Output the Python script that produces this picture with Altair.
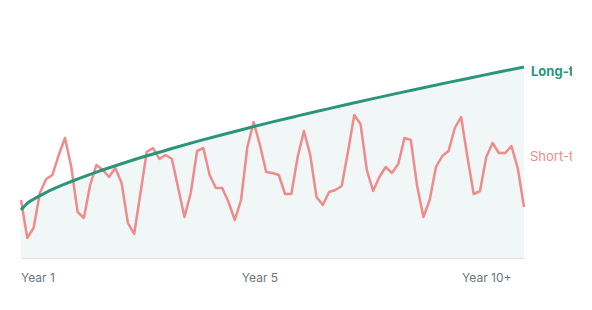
import altair as alt
import pandas as pd

# x positions are period indices (0 = Year 1 ... 80 = Year 10+)
short_term = [58, 20, 30, 65, 79, 83, 103, 120, 91, 46,
              40, 73, 93, 88, 81, 90, 75, 35, 24, 65,
              106, 110, 99, 103, 99, 70, 41, 65, 107, 110,
              83, 70, 70, 56, 38, 58, 111, 136, 113, 86,
              85, 83, 64, 64, 101, 127, 103, 61, 53, 66,
              68, 72, 106, 143, 134, 88, 67, 81, 91, 85,
              94, 120, 118, 72, 41, 58, 91, 102, 107, 130,
              141, 101, 64, 67, 101, 115, 105, 105, 112, 90,
              51]

long_idx = [0, 1, 2, 4, 8, 12, 16, 20, 24, 28, 32, 36, 40,
            44, 48, 52, 56, 60, 64, 68, 72, 76, 80]
long_term = [48, 54.7, 58.8, 65.6, 76.5, 85.9, 94.3, 102.2, 109.5, 116.6,
             123.3, 129.8, 136.1, 142.1, 148.0, 153.8, 159.4, 164.9,
             170.3, 175.6, 180.8, 186.0, 191.0]

year_labels = ["Year 1", "Year 5", "Year 10+"]
year_pos = [0, 38, 78]
year_align = ["left", "center", "right"]

series_labels = ["Long-term", "Short-term"]
series_label_x = [80, 80]
series_label_y = [191, 101]

GREEN = "#2b957a"
RED = "#ef8b8b"

short_df = pd.DataFrame({"i": list(range(len(short_term))), "v": short_term})
long_df = pd.DataFrame({"i": long_idx, "v": long_term})

xscale = alt.Scale(domain=[0, 80], nice=False, zero=False)
yscale = alt.Scale(domain=[0, 248], nice=False)

x_enc = alt.X("i:Q", scale=xscale,
              axis=alt.Axis(labels=False, ticks=False, grid=False, title=None,
                            domainColor="#dcdfe1", domainWidth=1))
y_enc = alt.Y("v:Q", scale=yscale, axis=None)

area = alt.Chart(long_df).mark_area(interpolate="monotone", color="#f1f7f7").encode(
    x=x_enc, y=y_enc)
green_line = alt.Chart(long_df).mark_line(interpolate="monotone", color=GREEN,
                                          strokeWidth=3).encode(x=x_enc, y=y_enc)
red_line = alt.Chart(short_df).mark_line(color=RED, strokeWidth=2.5,
                                         strokeJoin="round").encode(x=x_enc, y=y_enc)

year_layers = []
for lab, pos, al in zip(year_labels, year_pos, year_align):
    d = pd.DataFrame({"i": [pos], "t": [lab]})
    year_layers.append(
        alt.Chart(d).mark_text(align=al, baseline="middle", font="Inter",
                               fontSize=12, color="#6b7580").encode(
            x=alt.X("i:Q", scale=xscale), y=alt.value(268), text="t:N"))

lab_df = pd.DataFrame({"i": series_label_x, "v": series_label_y, "t": series_labels})
long_lab = alt.Chart(lab_df.iloc[[0]]).mark_text(
    align="left", baseline="middle", dx=7, dy=5, font="Inter", fontSize=13,
    fontWeight="bold", color=GREEN).encode(
    x=alt.X("i:Q", scale=xscale), y=alt.Y("v:Q", scale=yscale), text="t:N")
short_lab = alt.Chart(lab_df.iloc[[1]]).mark_text(
    align="left", baseline="middle", dx=6, font="Inter", fontSize=13,
    color=RED).encode(
    x=alt.X("i:Q", scale=xscale), y=alt.Y("v:Q", scale=yscale), text="t:N")

chart = alt.layer(area, red_line, green_line, *year_layers, long_lab, short_lab).properties(
    width=503, height=248,
    autosize=alt.AutoSizeParams(type="none"),
    padding={"left": 21, "right": 48, "top": 10, "bottom": 52},
).configure_view(stroke=None)

chart.save("out.html", embed_options={"renderer": "svg", "actions": False})
